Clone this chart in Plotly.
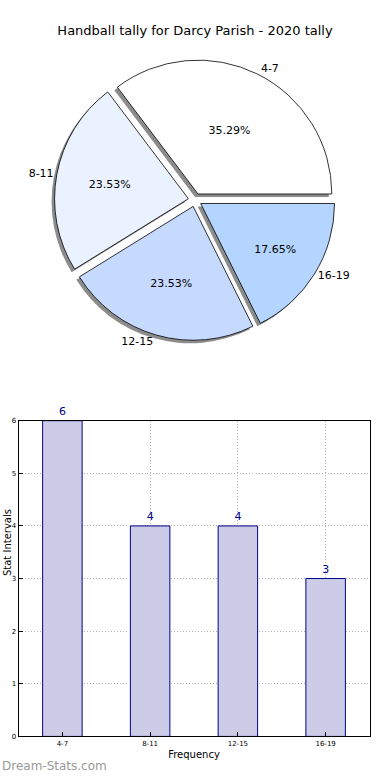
import plotly.graph_objects as go

categories = ["4-7", "8-11", "12-15", "16-19"]
counts = [6, 4, 4, 3]
pie_colors = ["#FFFFFF", "#EBF2FF", "#C6D9FF", "#B3D5FF"]
y_ticks = [0, 1, 2, 3, 4, 5, 6]

W, H = 390, 780
FONT = "DejaVu Sans"

def px_x(p):
    return p / W

def px_y(p):
    return 1 - p / H

# first slice starts at 3 o'clock and goes counterclockwise (matplotlib style)
rotation = 90 - 360 * counts[0] / sum(counts)

cx, cy, R = 195, 198, 142
pie_dom_x = [px_x(cx - R), px_x(cx + R)]
pie_dom_y = [px_y(cy + R), px_y(cy - R)]
sh = 3
shadow_dom_x = [px_x(cx - R - sh), px_x(cx + R - sh)]
shadow_dom_y = [px_y(cy + R + sh), px_y(cy - R + sh)]
pull = [0.05] * len(categories)

fig = go.Figure()

pie_common = dict(labels=categories, values=counts, sort=False,
                  direction="counterclockwise", rotation=rotation, pull=pull,
                  showlegend=False)

# shadow
fig.add_trace(go.Pie(
    domain=dict(x=shadow_dom_x, y=shadow_dom_y),
    marker=dict(colors=["#8c8c8c"] * 4, line=dict(width=0)),
    textinfo="none", hoverinfo="skip", **pie_common,
))
# main pie with percents inside
fig.add_trace(go.Pie(
    domain=dict(x=pie_dom_x, y=pie_dom_y),
    marker=dict(colors=pie_colors, line=dict(color="black", width=0.8)),
    texttemplate="%{percent:.2%}", textposition="inside",
    insidetextorientation="horizontal",
    textfont=dict(family=FONT, size=11, color="black"), **pie_common,
))
# labels outside
fig.add_trace(go.Pie(
    domain=dict(x=pie_dom_x, y=pie_dom_y),
    marker=dict(colors=["rgba(0,0,0,0)"] * 4, line=dict(width=0)),
    texttemplate="%{label}", textposition="outside",
    outsidetextfont=dict(family=FONT, size=11, color="black"),
    hoverinfo="skip", **pie_common,
))

# bar chart
fig.add_trace(go.Bar(
    x=categories, y=counts, width=0.45,
    marker=dict(color="#CCCCE6", line=dict(color="#00008B", width=1)),
    text=[str(c) for c in counts], textposition="outside", cliponaxis=False,
    textfont=dict(family=FONT, size=11, color="#00008B"),
    xaxis="x", yaxis="y", showlegend=False,
))

axis_common = dict(
    showline=True, linecolor="black", linewidth=1, mirror=True,
    showgrid=True, gridcolor="#b0b0b0", griddash="1px,2px", gridwidth=1,
    ticks="inside", ticklen=4, tickcolor="black", zeroline=False,
    tickfont=dict(family=FONT, size=7, color="black"),
)

fig.update_layout(
    width=W, height=H, margin=dict(l=0, r=0, t=0, b=0),
    paper_bgcolor="white", plot_bgcolor="white",
    font=dict(family=FONT, color="black"),
    title=dict(text="Handball tally for Darcy Parish - 2020 tally",
               x=0.5, xanchor="center", y=px_y(30), yanchor="middle",
               font=dict(family=FONT, size=13, color="black")),
    xaxis=dict(domain=[px_x(18.5), px_x(369.5)], anchor="y", range=[-0.5, 3.5],
               title=dict(text="Frequency", font=dict(family=FONT, size=10), standoff=4),
               **axis_common),
    yaxis=dict(domain=[px_y(740), px_y(421)], anchor="x", range=[0, 6],
               tickvals=y_ticks, **axis_common),
    annotations=[
        dict(text="Stat Intervals", textangle=-90, x=0, y=px_y(580),
             xref="paper", yref="paper", xanchor="left", showarrow=False,
             font=dict(family=FONT, size=10, color="black")),
        dict(text="Dream-Stats.com", x=0, y=px_y(770), xref="paper", yref="paper",
             xanchor="left", yanchor="middle", showarrow=False,
             font=dict(family=FONT, size=12, color="#999999")),
    ],
)

fig.write_html("out.html", config={"displayModeBar": False},
               post_script="document.body.style.margin='0px';")
